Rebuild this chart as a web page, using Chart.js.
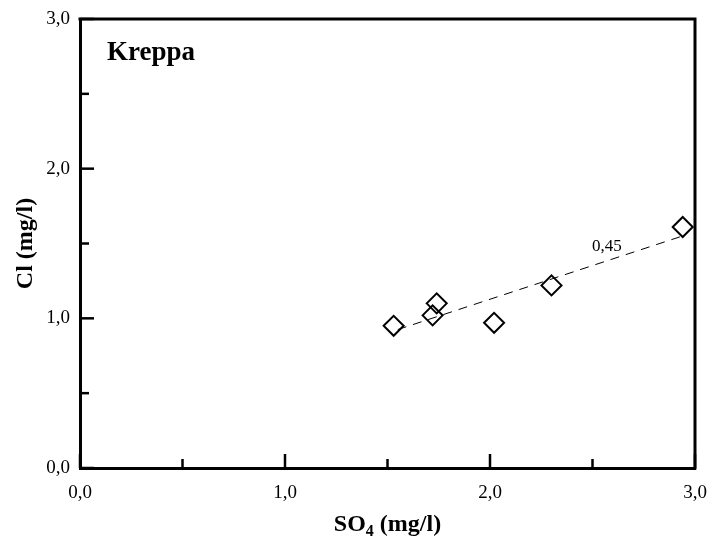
<!DOCTYPE html>
<html>
<head>
<meta charset="utf-8">
<script src="https://cdn.jsdelivr.net/npm/chart.js@4/dist/chart.umd.min.js"></script>
<style>
  html, body { margin: 0; padding: 0; background: #fff; }
  #c { display: block; }
</style>
</head>
<body>
<canvas id="c" width="712" height="543"></canvas>
<script>
// ---- data ----
const so4 = [1.53, 1.72, 1.74, 2.02, 2.30, 2.94];
const cl  = [0.95, 1.02, 1.10, 0.97, 1.22, 1.61];
const trendX = [1.55, 2.93];
const trendY = [0.925, 1.546];
const slopeLabel = '0,45';
const slopePos = [2.57, 1.48];
const siteName = 'Kreppa';
const xTitleMain = 'SO';
const xTitleSub = '4';
const xTitleRest = ' (mg/l)';
const yTitle = 'Cl (mg/l)';
const axisMin = 0, axisMax = 3, axisStep = 0.5;

const SERIF = "'Liberation Serif', 'Times New Roman', serif";

const pts = so4.map((x, i) => ({ x, y: cl[i] }));
const trend = trendX.map((x, i) => ({ x, y: trendY[i] }));

const fmt = v => Math.abs(v - Math.round(v)) < 1e-6 ? v.toFixed(1).replace('.', ',') : '';

const decor = {
  id: 'decor',
  afterDraw(chart) {
    const { ctx, chartArea: a, scales } = chart;
    const xs = scales.x, ys = scales.y;
    ctx.save();
    // frame top/right
    ctx.strokeStyle = '#000';
    ctx.lineWidth = 3;
    ctx.lineCap = 'square';
    ctx.beginPath();
    ctx.moveTo(a.left, a.top);
    ctx.lineTo(a.right, a.top);
    ctx.lineTo(a.right, a.bottom);
    ctx.stroke();
    // inward ticks
    ctx.lineWidth = 2.5;
    ctx.lineCap = 'butt';
    xs.ticks.forEach(t => {
      const major = fmt(t.value) !== '';
      const len = major ? 14 : 9;
      const px = xs.getPixelForValue(t.value);
      ctx.beginPath();
      ctx.moveTo(px, a.bottom);
      ctx.lineTo(px, a.bottom - len);
      ctx.stroke();
    });
    ys.ticks.forEach(t => {
      const major = fmt(t.value) !== '';
      const len = major ? 14 : 9;
      const py = ys.getPixelForValue(t.value);
      ctx.beginPath();
      ctx.moveTo(a.left, py);
      ctx.lineTo(a.left + len, py);
      ctx.stroke();
    });
    // site name
    ctx.fillStyle = '#000';
    ctx.font = 'bold 27px ' + SERIF;
    ctx.textAlign = 'left';
    ctx.textBaseline = 'alphabetic';
    ctx.fillText(siteName, a.left + 27, a.top + 41);
    // slope label
    ctx.font = '17px ' + SERIF;
    ctx.textAlign = 'center';
    ctx.textBaseline = 'middle';
    ctx.fillText(slopeLabel, xs.getPixelForValue(slopePos[0]), ys.getPixelForValue(slopePos[1]));
    // x title with subscript
    const big = 'bold 24px ' + SERIF, small = 'bold 16px ' + SERIF;
    ctx.font = big;
    const w1 = ctx.measureText(xTitleMain).width;
    const w3 = ctx.measureText(xTitleRest).width;
    ctx.font = small;
    const w2 = ctx.measureText(xTitleSub).width;
    const total = w1 + w2 + w3;
    let cx = (a.left + a.right) / 2 - total / 2;
    const base = 531;
    ctx.textAlign = 'left';
    ctx.textBaseline = 'alphabetic';
    ctx.font = big; ctx.fillText(xTitleMain, cx, base); cx += w1;
    ctx.font = small; ctx.fillText(xTitleSub, cx, base + 5); cx += w2;
    ctx.font = big; ctx.fillText(xTitleRest, cx, base);
    // y title
    ctx.translate(26, (a.top + a.bottom) / 2);
    ctx.rotate(-Math.PI / 2);
    ctx.font = big;
    ctx.textAlign = 'center';
    ctx.textBaseline = 'middle';
    ctx.fillText(yTitle, 0, 0);
    ctx.restore();
  }
};

new Chart(document.getElementById('c'), {
  type: 'scatter',
  data: {
    datasets: [
      {
        type: 'line',
        data: trend,
        borderColor: '#000',
        borderWidth: 1,
        borderDash: [9, 7],
        pointRadius: 0,
        fill: false,
        tension: 0
      },
      {
        data: pts,
        pointStyle: 'rectRot',
        pointRadius: 10,
        pointHoverRadius: 10,
        pointBorderWidth: 2,
        borderColor: '#000',
        backgroundColor: 'rgba(0,0,0,0)'
      }
    ]
  },
  options: {
    responsive: false,
    animation: false,
    events: [],
    layout: { padding: { top: 19, right: 17, left: 0, bottom: 0 } },
    plugins: { legend: { display: false }, tooltip: { enabled: false } },
    scales: {
      x: {
        type: 'linear',
        min: axisMin, max: axisMax,
        grid: { display: false, drawTicks: false },
        border: { display: true, width: 3, color: '#000' },
        ticks: { stepSize: axisStep, autoSkip: false, maxRotation: 0, padding: 14, color: '#000',
                 font: { family: SERIF, size: 19 }, callback: v => fmt(v) },
        afterFit: s => { s.height = 75; s.paddingLeft = 0; s.paddingRight = 0; }
      },
      y: {
        type: 'linear',
        min: axisMin, max: axisMax,
        grid: { display: false, drawTicks: false },
        border: { display: true, width: 3, color: '#000' },
        ticks: { stepSize: axisStep, autoSkip: false, padding: 10, color: '#000',
                 font: { family: SERIF, size: 19 }, callback: v => fmt(v) },
        afterFit: s => { s.width = 80; s.paddingTop = 0; s.paddingBottom = 0; }
      }
    }
  },
  plugins: [decor]
});
</script>
</body>
</html>
